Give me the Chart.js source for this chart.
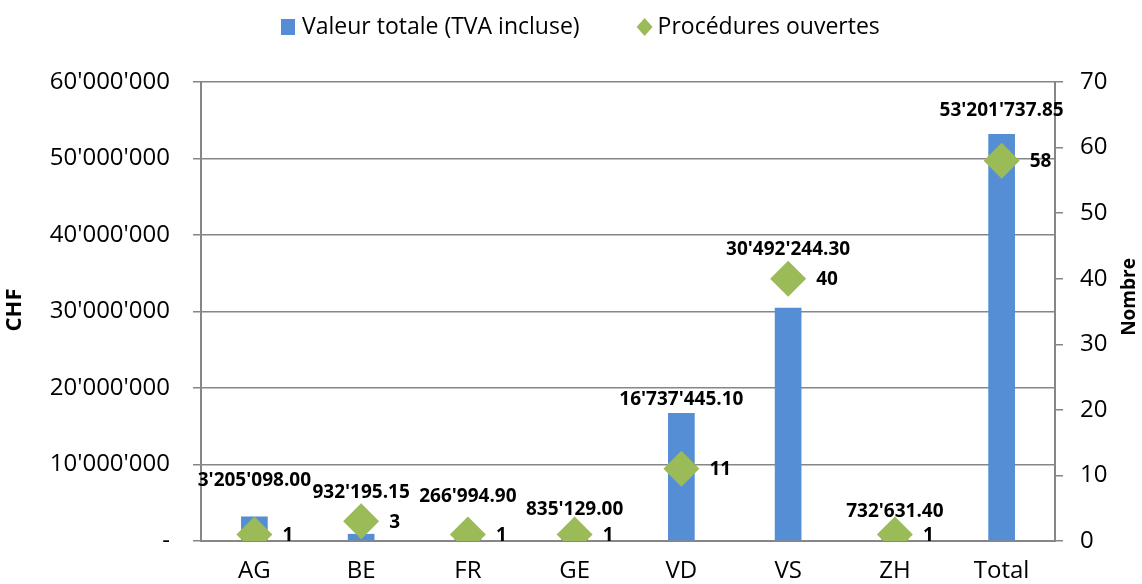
<!DOCTYPE html>
<html>
<head>
<meta charset="utf-8">
<script src="https://cdn.jsdelivr.net/npm/chart.js@4/dist/chart.umd.min.js"></script>
<style>
body{margin:0;background:#fff;}
#wrap{width:1142px;height:584px;}
</style>
</head>
<body>
<div id="wrap"><canvas id="chart" width="1142" height="584"></canvas></div>
<script>
// data
const cantons = ["AG","BE","FR","GE","VD","VS","ZH","Total"];
const valeurTotale = [3205098.00, 932195.15, 266994.90, 835129.00, 16737445.10, 30492244.30, 732631.40, 53201737.85];
const procedures = [1, 3, 1, 1, 11, 40, 1, 58];
const chfTicks = [0, 10000000, 20000000, 30000000, 40000000, 50000000, 60000000];
const nombreTicks = [0, 10, 20, 30, 40, 50, 60, 70];

// how far above each bar its value label sits (px)
const barLabelLift = [36, 41, 42, 25, 13, 58, 24, 23];

const BLUE = "#558ed5";
const GREEN = "#9bbb59";
const GRID = "#868686";
const FONT = "'Open Sans', 'Liberation Sans', sans-serif";

function apos(s){
  return s.replace(/\B(?=(\d{3})+(?!\d))/g, "'");
}
function fmtChf(v){
  const parts = v.toFixed(2).split(".");
  return apos(parts[0]) + "." + parts[1];
}

const labelsPlugin = {
  id: "labels",
  afterDatasetsDraw(chart){
    const ctx = chart.ctx;
    ctx.save();
    ctx.fillStyle = "#000";
    ctx.textBaseline = "middle";
    ctx.font = "bold 19px " + FONT;
    // bar values
    ctx.textAlign = "center";
    chart.getDatasetMeta(0).data.forEach((bar, i) => {
      ctx.fillText(fmtChf(valeurTotale[i]), bar.x, bar.y - barLabelLift[i]);
    });
    // diamond values
    ctx.textAlign = "left";
    chart.getDatasetMeta(1).data.forEach((pt, i) => {
      ctx.fillText(String(procedures[i]), pt.x + 28, pt.y + 1);
    });
    ctx.restore();
  },
  afterDraw(chart){
    const ctx = chart.ctx;
    ctx.save();
    ctx.fillStyle = "#000";
    ctx.textAlign = "center";
    ctx.textBaseline = "middle";
    // axis titles, both reading bottom to top
    ctx.font = "bold 22px " + FONT;
    ctx.translate(15, 310);
    ctx.rotate(-Math.PI / 2);
    ctx.fillText("CHF", 0, 0);
    ctx.setTransform(1, 0, 0, 1, 0, 0);
    ctx.font = "bold 19px " + FONT;
    ctx.translate(1130, 297);
    ctx.rotate(-Math.PI / 2);
    ctx.fillText("Nombre", 0, 0);
    ctx.setTransform(1, 0, 0, 1, 0, 0);

    // legend
    ctx.font = "23px " + FONT;
    ctx.textAlign = "left";
    const ly = 27;
    let x = 281;
    ctx.fillStyle = chart.data.datasets[0].backgroundColor;
    ctx.fillRect(x, ly - 8, 14, 16);
    ctx.fillStyle = "#000";
    const t1 = chart.data.datasets[0].label;
    ctx.fillText(t1, x + 21, ly);
    x += 21 + ctx.measureText(t1).width + 65;
    ctx.fillStyle = chart.data.datasets[1].backgroundColor;
    ctx.beginPath();
    ctx.moveTo(x, ly - 9);
    ctx.lineTo(x + 8, ly);
    ctx.lineTo(x, ly + 9);
    ctx.lineTo(x - 8, ly);
    ctx.closePath();
    ctx.fill();
    ctx.fillStyle = "#000";
    ctx.fillText(chart.data.datasets[1].label, x + 13, ly);
    ctx.restore();
  }
};

new Chart(document.getElementById("chart"), {
  type: "bar",
  data: {
    labels: cantons,
    datasets: [{
      label: "Valeur totale (TVA incluse)",
      data: valeurTotale,
      backgroundColor: BLUE,
      yAxisID: "y",
      barPercentage: 0.25,
      categoryPercentage: 1,
      order: 2
    }, {
      type: "line",
      label: "Procédures ouvertes",
      data: procedures,
      yAxisID: "y1",
      showLine: false,
      pointStyle: "rectRot",
      pointRadius: 18,
      pointHoverRadius: 18,
      pointBorderWidth: 0,
      backgroundColor: GREEN,
      borderColor: GREEN,
      order: 1
    }]
  },
  options: {
    responsive: false,
    animation: false,
    layout: { padding: { top: 82, left: 0, right: 0, bottom: 0 } },
    plugins: {
      legend: { display: false },
      tooltip: { enabled: false }
    },
    scales: {
      x: {
        grid: { display: false, drawTicks: false },
        border: { display: true, color: GRID, width: 2 },
        ticks: { color: "#000", font: { family: FONT, size: 24 }, padding: 16 },
        afterFit(s){ s.height = 43; }
      },
      y: {
        position: "left",
        min: 0,
        max: 60000000,
        afterBuildTicks(s){ s.ticks = chfTicks.map(v => ({ value: v })); },
        grid: { color: GRID, lineWidth: 1.5, tickLength: 8, tickColor: GRID },
        border: { color: GRID, width: 2 },
        ticks: {
          color: "#000",
          font: { family: FONT, size: 24 },
          padding: 23,
          callback: v => v === 0 ? "-" : apos(String(v))
        },
        afterFit(s){ s.width = 201; }
      },
      y1: {
        position: "right",
        min: 0,
        max: 70,
        afterBuildTicks(s){ s.ticks = nombreTicks.map(v => ({ value: v })); },
        grid: { drawOnChartArea: false, tickLength: 8, tickColor: GRID, lineWidth: 1.5 },
        border: { color: GRID, width: 2 },
        ticks: { color: "#000", font: { family: FONT, size: 24 }, padding: 17 },
        afterFit(s){ s.width = 87; }
      }
    }
  },
  plugins: [labelsPlugin]
});
</script>
</body>
</html>
